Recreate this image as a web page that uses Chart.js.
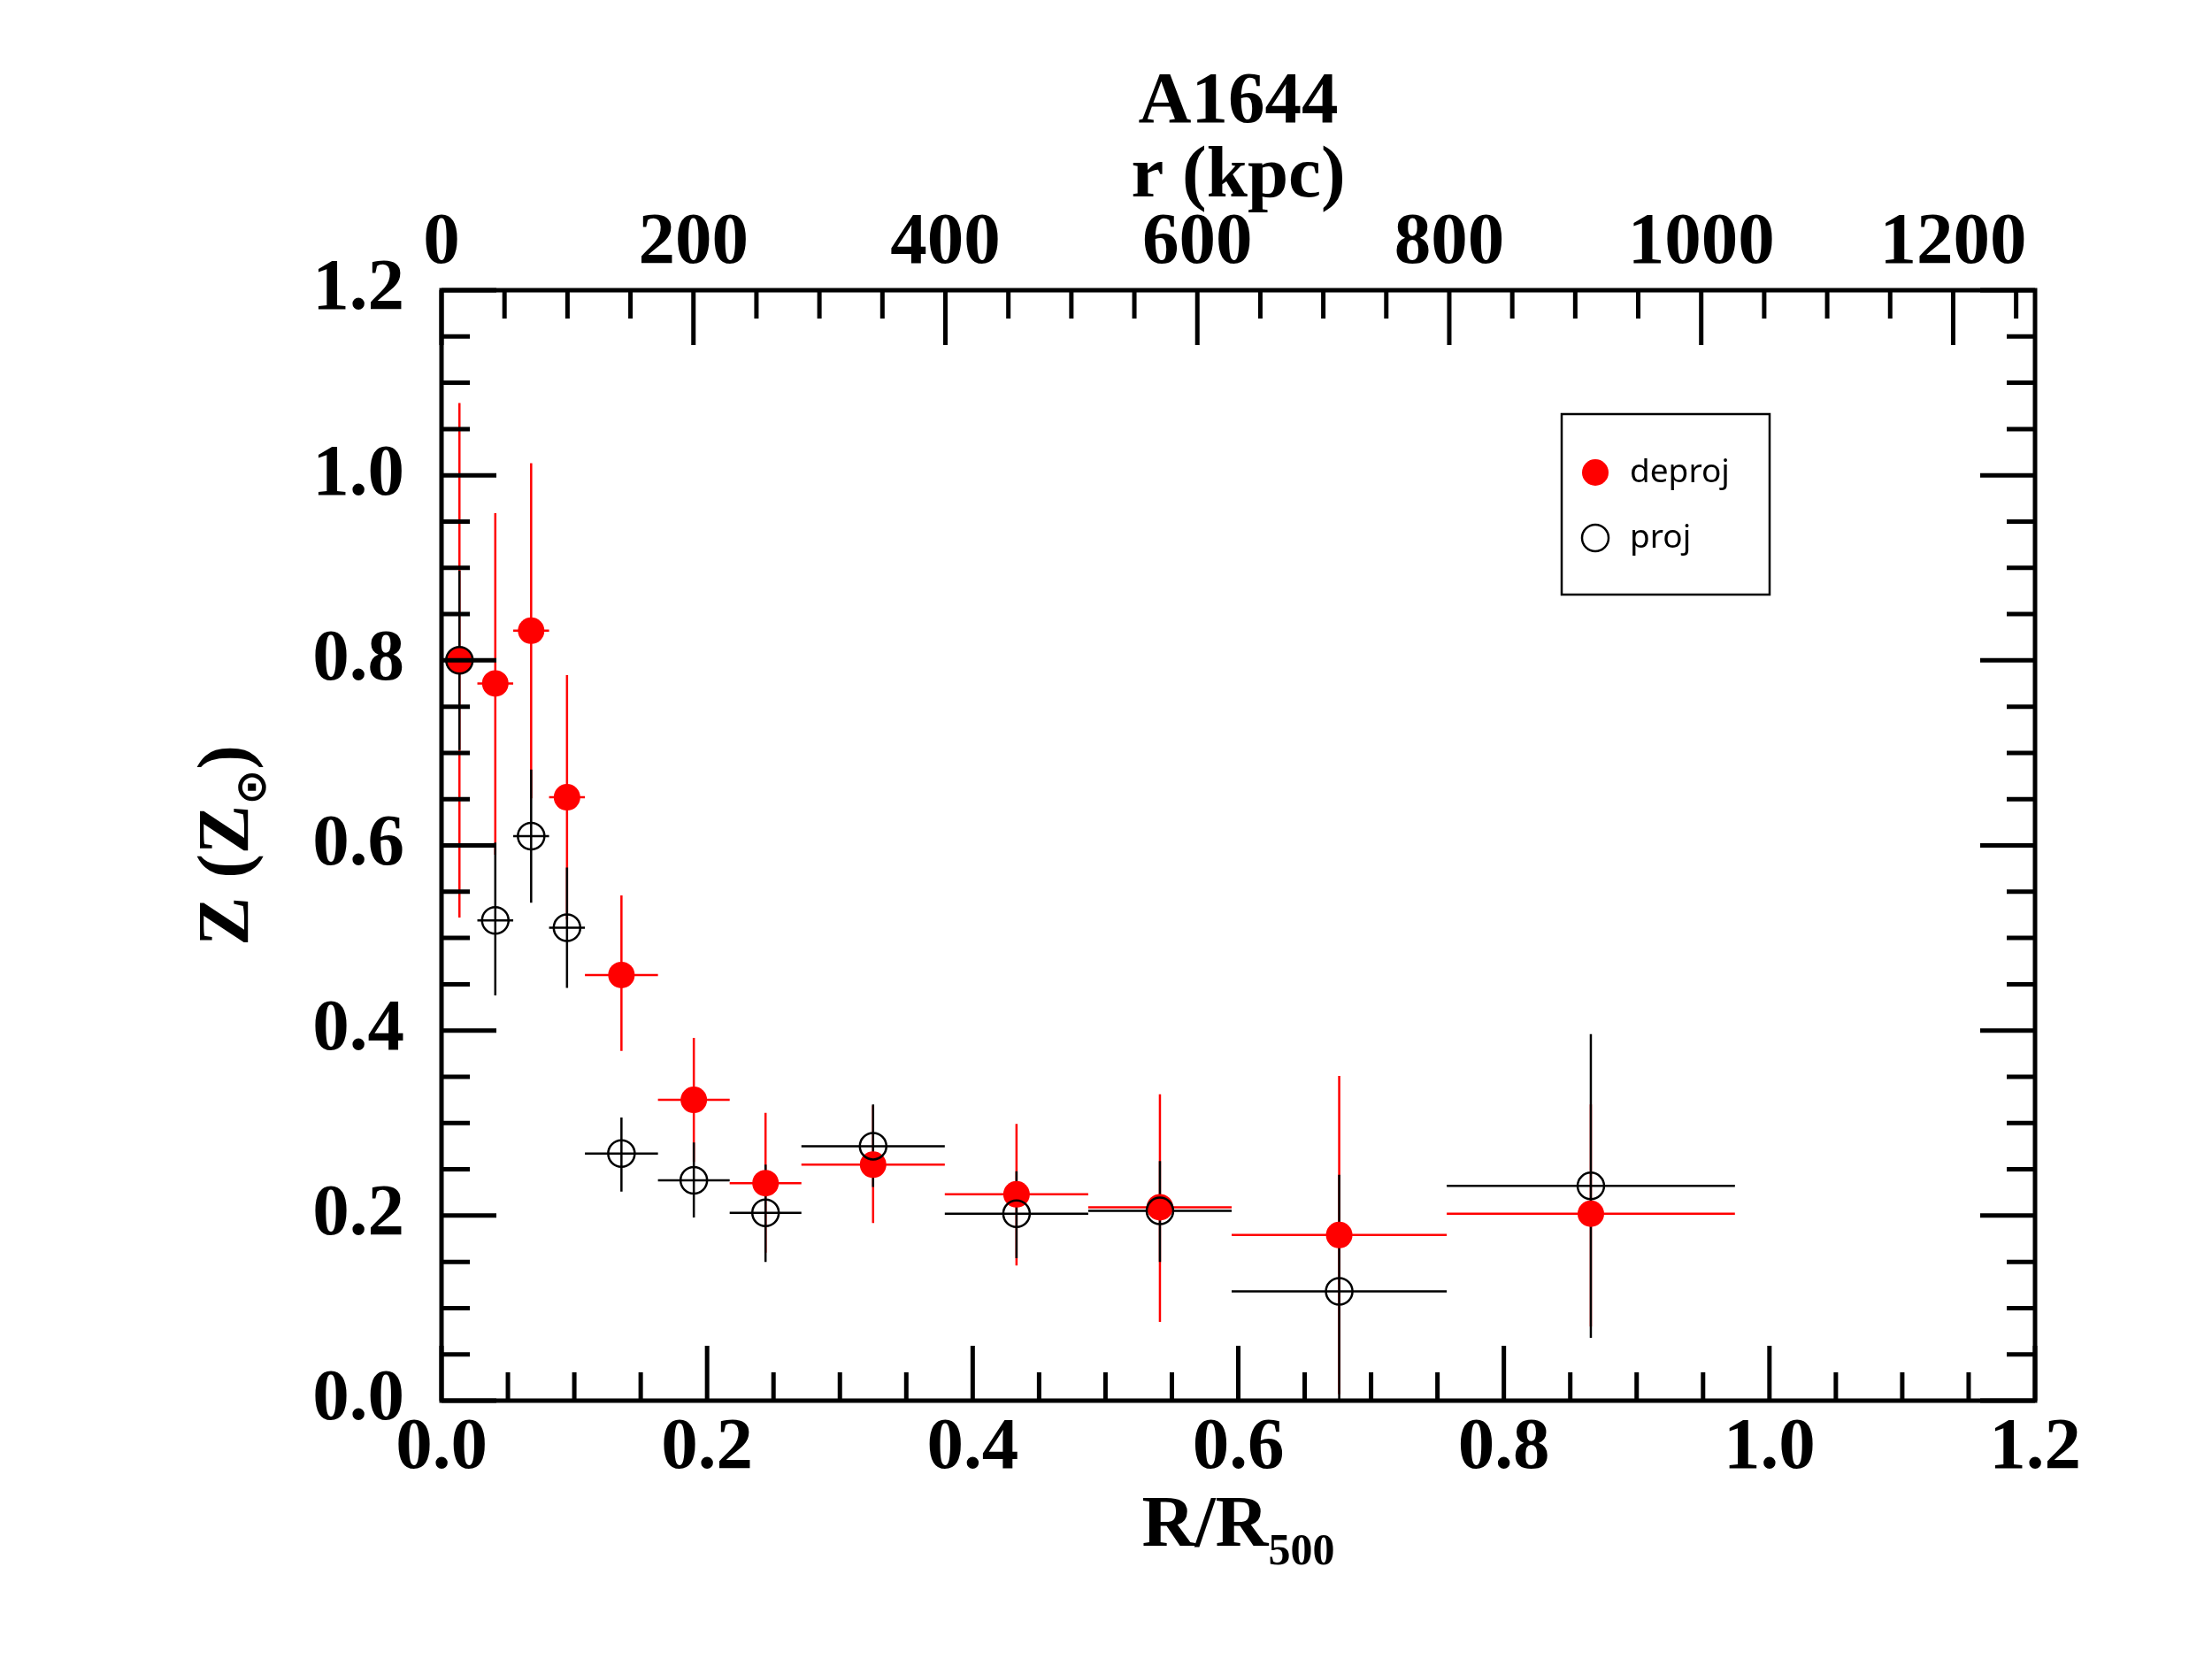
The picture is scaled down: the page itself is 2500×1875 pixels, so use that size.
<!DOCTYPE html>
<html>
<head>
<meta charset="utf-8">
<script src="https://cdn.jsdelivr.net/npm/chart.js@4.4.1/dist/chart.umd.min.js"></script>
<style>
  html, body { margin: 0; padding: 0; background: #fff; }
  canvas { display: block; }
</style>
</head>
<body>
<canvas id="metalChart" width="2500" height="1875"></canvas>
<script>
// Radial bins in R/R500: centre and bin edges
const binCentre = [0.0135, 0.0405, 0.0675, 0.0945, 0.1355, 0.19, 0.244, 0.325, 0.433, 0.541, 0.676, 0.8655];
const binLow    = [0.0, 0.027, 0.054, 0.081, 0.108, 0.163, 0.217, 0.271, 0.379, 0.487, 0.595, 0.757];
const binHigh   = [0.027, 0.054, 0.081, 0.108, 0.163, 0.217, 0.271, 0.379, 0.487, 0.595, 0.757, 0.974];

// Deprojected metallicity (Z_sun) with lower / upper error limits
const deprojZ    = [0.800, 0.775, 0.832, 0.652, 0.460, 0.325, 0.235, 0.255, 0.223, 0.209, 0.179, 0.202];
const deprojLow  = [0.522, 0.590, 0.651, 0.520, 0.378, 0.258, 0.160, 0.192, 0.146, 0.085, 0.007, 0.080];
const deprojHigh = [1.078, 0.959, 1.013, 0.784, 0.546, 0.392, 0.311, 0.319, 0.299, 0.331, 0.351, 0.320];

// Projected metallicity (Z_sun) with lower / upper error limits
const projZ    = [0.800, 0.519, 0.610, 0.511, 0.267, 0.238, 0.203, 0.275, 0.202, 0.205, 0.118, 0.232];
const projLow  = [0.703, 0.438, 0.538, 0.446, 0.226, 0.198, 0.150, 0.231, 0.154, 0.150, -0.010, 0.068];
const projHigh = [0.897, 0.603, 0.682, 0.576, 0.306, 0.279, 0.255, 0.320, 0.248, 0.259, 0.244, 0.396];

// Tick labels
const radiusTicks = [0, 0.2, 0.4, 0.6, 0.8, 1.0, 1.2];
const zTicks = [0, 0.2, 0.4, 0.6, 0.8, 1.0, 1.2];
const kpcTicks = [0, 200, 400, 600, 800, 1000, 1200];
const kpcMax = 1265; // r in kpc at R/R500 = 1.2

const tickFont = { family: 'Liberation Serif', size: 83, weight: 'bold' };

// error bars, drawn under the markers
const errorBars = {
    id: 'errorBars',
    beforeDatasetsDraw(chart) {
        const ctx = chart.ctx;
        const area = chart.chartArea;
        const xs = chart.scales.x;
        const ys = chart.scales.y;
        ctx.save();
        ctx.beginPath();
        ctx.rect(area.left, area.top, area.right - area.left, area.bottom - area.top);
        ctx.clip();
        chart.data.datasets.forEach(ds => {
            ctx.strokeStyle = ds.barColor;
            ctx.lineWidth = 2.5;
            ds.data.forEach((p, i) => {
                const px = xs.getPixelForValue(p.x);
                const py = ys.getPixelForValue(p.y);
                ctx.beginPath();
                ctx.moveTo(px, ys.getPixelForValue(ds.errLow[i]));
                ctx.lineTo(px, ys.getPixelForValue(ds.errHigh[i]));
                ctx.moveTo(xs.getPixelForValue(ds.xLow[i]), py);
                ctx.lineTo(xs.getPixelForValue(ds.xHigh[i]), py);
                ctx.stroke();
            });
        });
        ctx.restore();
    }
};

// frame, inward ticks, axis titles and legend box
const frameAndText = {
    id: 'frameAndText',
    afterDraw(chart) {
        const ctx = chart.ctx;
        const area = chart.chartArea;
        const xs = chart.scales.x, x2 = chart.scales.x2, ys = chart.scales.y;
        ctx.save();
        ctx.strokeStyle = '#000';
        ctx.lineWidth = 5;
        ctx.strokeRect(area.left, area.top, area.right - area.left, area.bottom - area.top);

        ctx.beginPath();
        for (let i = 0; i <= 24; i++) {
            const len = i % 4 === 0 ? 62 : 32;
            const px = xs.getPixelForValue(i * 0.05);
            ctx.moveTo(px, area.bottom);
            ctx.lineTo(px, area.bottom - len);
            const py = ys.getPixelForValue(i * 0.05);
            ctx.moveTo(area.left, py);
            ctx.lineTo(area.left + len, py);
            ctx.moveTo(area.right, py);
            ctx.lineTo(area.right - len, py);
        }
        for (let i = 0; i * 50 <= kpcMax; i++) {
            const len = i % 4 === 0 ? 62 : 32;
            const px = x2.getPixelForValue(i * 50);
            ctx.moveTo(px, area.top);
            ctx.lineTo(px, area.top + len);
        }
        ctx.stroke();

        const cx = (area.left + area.right) / 2;
        ctx.fillStyle = '#000';
        ctx.font = 'bold 83px "Liberation Serif"';
        ctx.textAlign = 'center';
        ctx.textBaseline = 'alphabetic';
        ctx.fillText('A1644', cx, area.top - 190);
        ctx.fillText('r (kpc)', cx, area.top - 106);

        // x title R/R500
        ctx.textAlign = 'left';
        const mainFont = 'bold 83px "Liberation Serif"';
        const subFont = 'bold 50px "Liberation Serif"';
        ctx.font = mainFont;
        const w1 = ctx.measureText('R/R').width;
        ctx.font = subFont;
        const w2 = ctx.measureText('500').width;
        let sx = cx - (w1 + w2) / 2;
        const by = area.bottom + 164;
        ctx.font = mainFont;
        ctx.fillText('R/R', sx, by);
        ctx.font = subFont;
        ctx.fillText('500', sx + w1, by + 21);

        // y title Z (Z_sun)
        ctx.save();
        ctx.translate(280, (area.top + area.bottom) / 2);
        ctx.rotate(-Math.PI / 2);
        const sunFont = 'bold 48px "DejaVu Sans"';
        ctx.font = mainFont;
        const a = ctx.measureText('Z (Z').width;
        const c = ctx.measureText(')').width;
        ctx.font = sunFont;
        const b = ctx.measureText('\u2299').width;
        let tx = -(a + b + c) / 2;
        ctx.font = mainFont;
        ctx.fillText('Z (Z', tx, 0);
        ctx.font = sunFont;
        ctx.fillText('\u2299', tx + a, 20);
        ctx.font = mainFont;
        ctx.fillText(')', tx + a + b, 0);
        ctx.restore();

        // legend
        ctx.lineWidth = 2.5;
        ctx.strokeRect(1765, 468, 235, 204);
        const items = chart.data.datasets;
        ctx.font = '37px "Noto Sans"';
        ctx.textBaseline = 'middle';
        items.forEach((ds, i) => {
            const ly = 534 + i * 74;
            ctx.beginPath();
            ctx.arc(1803, ly, 15, 0, Math.PI * 2);
            if (ds.pointBorderWidth > 0) {
                ctx.lineWidth = ds.pointBorderWidth;
                ctx.strokeStyle = ds.pointBorderColor;
                ctx.stroke();
            } else {
                ctx.fillStyle = ds.pointBackgroundColor;
                ctx.fill();
            }
            ctx.fillStyle = '#000';
            ctx.fillText(ds.label, 1842, ly);
        });
        ctx.restore();
    }
};

const ctxZ = document.getElementById('metalChart').getContext('2d');
const metalChart = new Chart(ctxZ, {
    type: 'scatter',
    data: {
        datasets: [{
            label: 'deproj',
            data: binCentre.map((r, i) => ({ x: r, y: deprojZ[i] })),
            errLow: deprojLow,
            errHigh: deprojHigh,
            xLow: binLow,
            xHigh: binHigh,
            barColor: '#ff0000',
            pointRadius: 15,
            pointBackgroundColor: '#ff0000',
            pointBorderColor: '#ff0000',
            pointBorderWidth: 0,
            order: 1
        }, {
            label: 'proj',
            data: binCentre.map((r, i) => ({ x: r, y: projZ[i] })),
            errLow: projLow,
            errHigh: projHigh,
            xLow: binLow,
            xHigh: binHigh,
            barColor: '#000000',
            pointRadius: 15,
            pointBackgroundColor: 'rgba(0,0,0,0)',
            pointBorderColor: '#000000',
            pointBorderWidth: 2.5,
            order: 0
        }]
    },
    options: {
        responsive: false,
        devicePixelRatio: 1,
        animation: false,
        layout: { padding: 0 },
        plugins: {
            legend: { display: false },
            tooltip: { enabled: false }
        },
        scales: {
            x: {
                type: 'linear', position: 'bottom', min: 0, max: 1.2,
                afterBuildTicks: s => { s.ticks = radiusTicks.map(v => ({ value: v })); },
                afterFit: s => { s.height = 292; },
                grid: { display: false, drawTicks: false },
                border: { display: false },
                ticks: { font: tickFont, color: '#000', padding: 5, maxRotation: 0, autoSkip: false,
                         callback: v => v.toFixed(1) }
            },
            x2: {
                type: 'linear', position: 'top', min: 0, max: kpcMax,
                afterBuildTicks: s => { s.ticks = kpcTicks.map(v => ({ value: v })); },
                afterFit: s => { s.height = 328; },
                grid: { display: false, drawTicks: false },
                border: { display: false },
                ticks: { font: tickFont, color: '#000', padding: 3, maxRotation: 0, autoSkip: false,
                         callback: v => String(v) }
            },
            y: {
                type: 'linear', position: 'left', min: 0, max: 1.2,
                afterBuildTicks: s => { s.ticks = zTicks.map(v => ({ value: v })); },
                afterFit: s => { s.width = 499; },
                grid: { display: false, drawTicks: false },
                border: { display: false },
                ticks: { font: tickFont, color: '#000', padding: 42, autoSkip: false,
                         callback: v => v.toFixed(1) }
            },
            y2: {
                type: 'linear', position: 'right', min: 0, max: 1.2,
                afterFit: s => { s.width = 200; },
                grid: { display: false, drawTicks: false },
                border: { display: false },
                ticks: { display: false }
            }
        }
    },
    plugins: [errorBars, frameAndText]
});
</script>
</body>
</html>
